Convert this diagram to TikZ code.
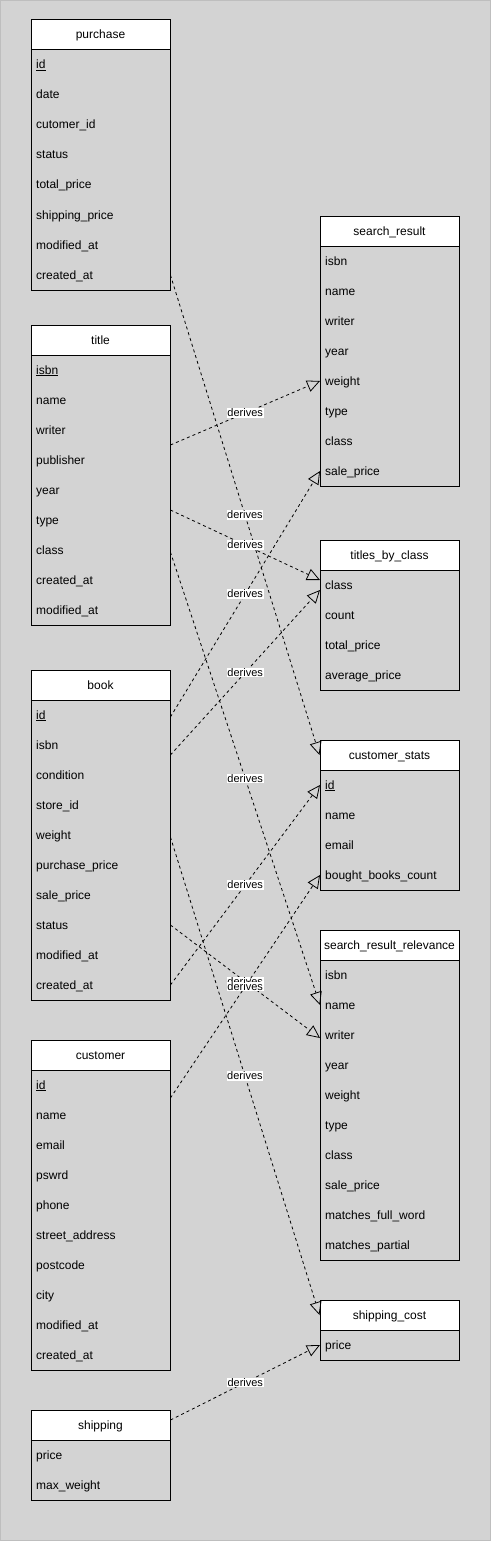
\documentclass[tikz,border=0pt]{standalone}
\usepackage{fontspec}
\setmainfont{Liberation Sans}
\usetikzlibrary{arrows.meta}

\definecolor{canvas}{RGB}{211,211,211}
\definecolor{canvasline}{RGB}{190,190,190}

\tikzset{
  hd/.style={draw,line width=1pt,fill=white,minimum width=139pt,minimum height=30pt,inner sep=0pt,text height=11pt,text depth=3pt,font=\fontsize{12}{14}\selectfont},
  bx/.style={draw,line width=1pt},
  row/.style={anchor=west,text width=129pt,align=left,inner xsep=5pt,inner ysep=0pt,minimum height=30pt,text height=11pt,text depth=3pt,font=\fontsize{12}{14}\selectfont},
  derive/.style={dash pattern=on 3pt off 3pt,line width=0.8pt,-{Triangle[open,length=13pt,width=12pt]}},
  lbl/.style={fill=white,inner sep=0.6pt,font=\fontsize{11}{12}\selectfont}
}

\begin{document}
\begin{tikzpicture}[x=1pt,y=-1pt]

\useasboundingbox (0,0) rectangle (491,1541);
\draw[fill=canvas,draw=canvasline]  (0.5,0.5) rectangle (490.5,1540.5);

% left column
\node[hd] (purchase) at (100.5,35) {purchase};
\draw[bx] (31,50) rectangle (170,290);
\foreach \r [count=\i] in {\underline{id},date,cutomer\_id,status,total\_price,shipping\_price,modified\_at,created\_at}
  \node[row] (purchase-\i) at (31,35+30*\i) {\r};

\node[hd] (title) at (100.5,340) {title};
\draw[bx] (31,355) rectangle (170,625);
\foreach \r [count=\i] in {\underline{isbn},name,writer,publisher,year,type,class,created\_at,modified\_at}
  \node[row] (title-\i) at (31,340+30*\i) {\r};

\node[hd] (book) at (100.5,685) {book};
\draw[bx] (31,700) rectangle (170,1000);
\foreach \r [count=\i] in {\underline{id},isbn,condition,store\_id,weight,purchase\_price,sale\_price,status,modified\_at,created\_at}
  \node[row] (book-\i) at (31,685+30*\i) {\r};

\node[hd] (customer) at (100.5,1055) {customer};
\draw[bx] (31,1070) rectangle (170,1370);
\foreach \r [count=\i] in {\underline{id},name,email,pswrd,phone,street\_address,postcode,city,modified\_at,created\_at}
  \node[row] (customer-\i) at (31,1055+30*\i) {\r};

\node[hd] (shipping) at (100.5,1425) {shipping};
\draw[bx] (31,1440) rectangle (170,1500);
\foreach \r [count=\i] in {price,max\_weight}
  \node[row] (shipping-\i) at (31,1425+30*\i) {\r};

% right column
\node[hd] (result) at (389.5,231) {search\_result};
\draw[bx] (320,246) rectangle (459,486);
\foreach \r [count=\i] in {isbn,name,writer,year,weight,type,class,sale\_price}
  \node[row] (result-\i) at (320,231+30*\i) {\r};

\node[hd] (byclass) at (389.5,555) {titles\_by\_class};
\draw[bx] (320,570) rectangle (459,690);
\foreach \r [count=\i] in {class,count,total\_price,average\_price}
  \node[row] (byclass-\i) at (320,555+30*\i) {\r};

\node[hd] (stats) at (389.5,755) {customer\_stats};
\draw[bx] (320,770) rectangle (459,890);
\foreach \r [count=\i] in {\underline{id},name,email,bought\_books\_count}
  \node[row] (stats-\i) at (320,755+30*\i) {\r};

\node[hd] (relevance) at (389.5,945) {search\_result\_relevance};
\draw[bx] (320,960) rectangle (459,1260);
\foreach \r [count=\i] in {isbn,name,writer,year,weight,type,class,sale\_price,matches\_full\_word,matches\_partial}
  \node[row] (relevance-\i) at (320,945+30*\i) {\r};

\node[hd] (shipcost) at (389.5,1315) {shipping\_cost};
\draw[bx] (320,1330) rectangle (459,1360);
\node[row] (shipcost-1) at (320,1345) {price};

% derivations
\draw[derive] (purchase-8.east) -- node[lbl] {derives} (stats.west);
\draw[derive] ([yshift=-15pt]title-3.east) -- node[lbl] {derives} (result-5.west);
\draw[derive] ([yshift=10pt]title-6.east) -- node[lbl] {derives} ([yshift=5pt]byclass-1.west);
\draw[derive] ([yshift=-2pt]title-7.east) -- node[lbl] {derives} (relevance-2.west);
\draw[derive] ([yshift=-2pt]book-1.east) -- node[lbl] {derives} (result-8.west);
\draw[derive] ([yshift=-10pt]book-2.east) -- node[lbl] {derives} ([yshift=-5pt]byclass-1.west);
\draw[derive] ([yshift=-2pt]book-5.east) -- node[lbl] {derives} (shipcost.west);
\draw[derive] (book-8.east) -- node[lbl] {derives} ([yshift=-3pt]relevance-3.west);
\draw[derive] (book-10.east) -- node[lbl] {derives} (stats-1.west);
\draw[derive] ([yshift=-13pt]customer-1.east) -- node[lbl] {derives} (stats-4.west);
\draw[derive] ([yshift=5pt]shipping.east) -- node[lbl] {derives} (shipcost-1.west);

\end{tikzpicture}
\end{document}
